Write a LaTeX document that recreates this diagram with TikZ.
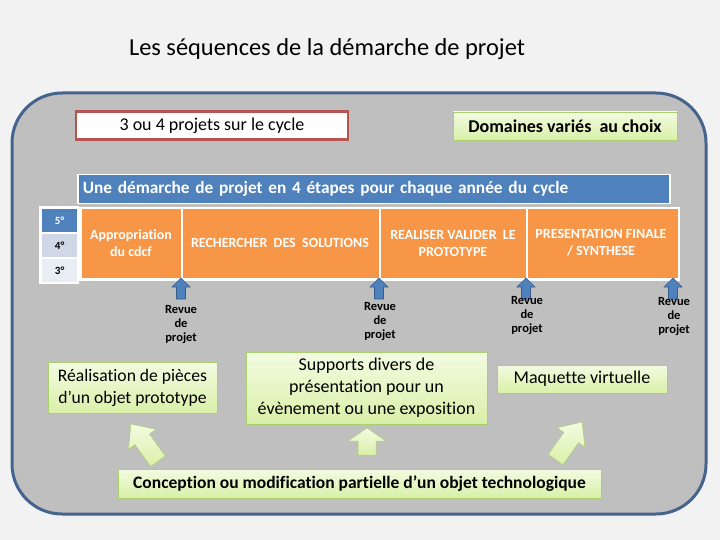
\documentclass[tikz,border=0pt]{standalone}
\usepackage{fontspec}
\setmainfont{Carlito}[RawFeature={-liga;-dlig;-clig}]
\definecolor{bgc}{HTML}{F2F2F2}
\definecolor{panel}{HTML}{BFBFBF}
\definecolor{panelb}{HTML}{44648F}
\definecolor{redb}{HTML}{B85450}
\definecolor{blu}{HTML}{4F81BD}
\definecolor{blud}{HTML}{385D8A}
\definecolor{org}{HTML}{F79646}
\definecolor{yr4}{HTML}{D0D8E8}
\definecolor{yr3}{HTML}{E9EDF4}
\definecolor{gtop}{HTML}{F3FBE2}
\definecolor{gbot}{HTML}{D9F0A8}
\definecolor{gbord}{HTML}{A9CF6E}
\tikzset{
  greenbox/.style={draw=gbord, line width=0.6pt, top color=gtop, bottom color=gbot, align=center, inner sep=2pt},
  orgcell/.style={fill=org, draw=white, line width=1.5pt, anchor=north west},
  orgtext/.style={text=white, font=\fontsize{14}{17}\selectfont\bfseries, align=center},
  yrcell/.style={draw=white, line width=1.2pt, minimum width=36pt, minimum height=24pt, anchor=north west, font=\fontsize{11}{12}\selectfont\bfseries},
  revlabel/.style={font=\fontsize{12.5}{14}\selectfont\bfseries, align=center},
  bluearrow/.style={fill=blu, draw=blud, line width=0.6pt},
  greenarrow/.style={draw=gbord, line width=0.5pt, top color=gtop, bottom color=gbot}
}
\begin{document}
\begin{tikzpicture}[x=1pt,y=-1pt]
\fill[bgc] (0,0) rectangle (720,540);
\useasboundingbox (0,0) rectangle (720,540);
% panel
\draw[panelb, line width=3pt, fill=panel, rounded corners=50pt] (12,93) rectangle (706,514);
% title
\node (title) at (327,49) {\fontsize{24.4}{28}\selectfont Les séquences de la démarche de projet};
% top boxes
\node (cycle) [draw=redb, fill=white, line width=2.5pt, minimum width=272pt, minimum height=28pt, font=\fontsize{18}{20}\selectfont] at (212,125.5) {3 ou 4 projets sur le cycle};
\node (dom) [greenbox, minimum width=224pt, minimum height=28pt, font=\fontsize{18}{20}\selectfont\bfseries] at (565,126) {Domaines variés\ \ au choix};
% blue bar
\node (bar) [fill=blu, draw=white, line width=1.5pt, minimum width=592pt, minimum height=29pt, anchor=west, text=white, font=\fontsize{17.3}{20}\selectfont\bfseries, text width=582pt, align=left] at (77,189) {Une démarche de projet en 4 étapes pour chaque année du cycle};
% years
\draw[white, line width=1.5pt] (40,207) rectangle (78,283);
\node (y5) [yrcell, fill=blu, text=white] at (41,208) {5°};
\node (y4) [yrcell, fill=yr4] at (41,233) {4°};
\node (y3) [yrcell, fill=yr3] at (41,258) {3°};
% orange bar
\fill[white] (79,207) rectangle (680,281);
\node (s1) [orgcell, minimum width=101pt, minimum height=70pt] at (80,208) {};
\node (s2) [orgcell, minimum width=198pt, minimum height=70pt] at (181,208) {};
\node (s3) [orgcell, minimum width=147pt, minimum height=70pt] at (379,208) {};
\node (s4) [orgcell, minimum width=152pt, minimum height=70pt] at (526,208) {};
\node (t1) [orgtext] at (131,243) {Appropriation\\du cdcf};
\node (t2) [orgtext] at (280,243) {RECHERCHER\ \ DES\ \ SOLUTIONS};
\node (t3) [orgtext] at (453,243) {REALISER VALIDER\ \ LE\\PROTOTYPE};
\node (t4) [orgtext] at (601,243) {PRESENTATION FINALE\\/ SYNTHESE};
% review arrows (tip at bottom of orange bar)
\foreach \xx in {181,379,526,673}{
  \draw[bluearrow] (\xx,278) -- ++(9,9) -- ++(-4.5,0) -- ++(0,12) -- ++(-9,0) -- ++(0,-12) -- ++(-4.5,0) -- cycle;
}
\node (r1) [revlabel] at (181,325) {Revue\\de\\projet};
\node (r2) [revlabel] at (380,322) {Revue\\de\\projet};
\node (r3) [revlabel] at (527,316) {Revue\\de\\projet};
\node (r4) [revlabel] at (674,317) {Revue\\de\\projet};
% green boxes
\node (proto) [greenbox, minimum width=169pt, minimum height=51pt, font=\fontsize{17.6}{22}\selectfont] at (132.5,387.5) {Réalisation de pièces\\d’un objet prototype};
\node (supp) [greenbox, minimum width=241pt, minimum height=72pt, font=\fontsize{18}{22}\selectfont] at (366.5,388) {Supports divers de\\présentation pour un\\évènement ou une exposition};
\node (maq) [greenbox, minimum width=170pt, minimum height=28pt, font=\fontsize{18}{20}\selectfont] at (582,379) {Maquette virtuelle};
\node (conc) [greenbox, minimum width=483pt, minimum height=29pt, font=\fontsize{17.5}{20}\selectfont\bfseries] at (359.5,483.5) {Conception ou modification partielle d’un objet technologique};
% green block arrows
\draw[greenarrow, shift={(131,424)}, rotate=36] (0,0) -- (17,19) -- (9,19) -- (9,46) -- (-9,46) -- (-9,19) -- (-17,19) -- cycle;
\draw[greenarrow, shift={(367,428)}] (0,0) -- (19,13) -- (9,13) -- (9,27) -- (-9,27) -- (-9,13) -- (-19,13) -- cycle;
\draw[greenarrow, shift={(582,422)}, rotate=-35] (0,0) -- (17,19) -- (9,19) -- (9,46) -- (-9,46) -- (-9,19) -- (-17,19) -- cycle;
\end{tikzpicture}
\end{document}
